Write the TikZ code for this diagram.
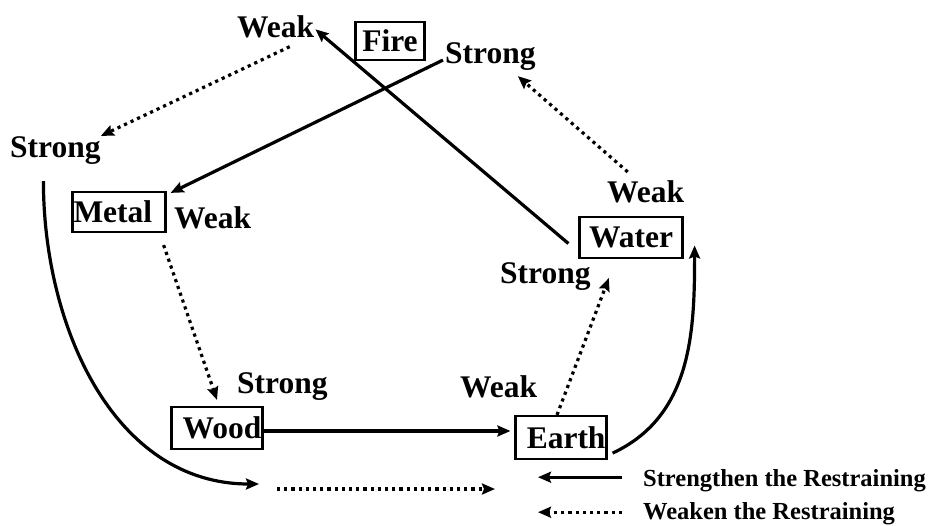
\documentclass[tikz,border=0pt]{standalone}
\usepackage{fontspec}
\setmainfont{Liberation Serif}
\usepackage{tikz}
\usetikzlibrary{arrows.meta, positioning, calc}
\tikzstyle{element}    = [rectangle, draw=black, line width=2.2pt, inner xsep=1pt, inner ysep=0pt,
                          minimum height=41pt, font=\fontsize{31.5}{36}\selectfont\bfseries]
\tikzstyle{tag}        = [inner sep=0pt, anchor=base west, font=\fontsize{31.5}{36}\selectfont\bfseries]
\tikzstyle{legendtext} = [inner sep=0pt, anchor=base west, font=\fontsize{24.5}{28}\selectfont\bfseries]
\tikzstyle{restrain}   = [line width=3.2pt, -{Stealth[length=13pt,width=11pt,inset=2pt]}]
\tikzstyle{weaken}     = [restrain, dash pattern=on 3.2pt off 4pt]

\begin{document}
\begin{tikzpicture}[x=1pt, y=-1pt]
  \useasboundingbox (0,0) rectangle (928,525);

  % Elements
  \node (fire)  [element, text width=67pt, align=center, minimum height=38pt] at (390,41)    {Fire};
  \node (metal) [element, text width=91pt, align=left,   minimum height=40pt] at (119,212)   {Metal};
  \node (water) [element, text width=101pt, align=center]                     at (631,237.5) {Water};
  \node (wood)  [element, text width=89pt, align=right,  minimum height=42pt] at (217,428)   {Wood};
  \node (earth) [element, text width=89pt, align=right,  minimum height=43pt] at (561,437.5) {Earth};

  % Strong / weak tags
  \node (fireweak)    [tag] at (237,37)  {Weak};
  \node (firestrong)  [tag] at (445,63)  {Strong};
  \node (metalstrong) [tag] at (10,157)  {Strong};
  \node (metalweak)   [tag] at (174,228) {Weak};
  \node (waterweak)   [tag] at (607,202) {Weak};
  \node (waterstrong) [tag] at (500,283) {Strong};
  \node (woodstrong)  [tag] at (237,393) {Strong};
  \node (earthweak)   [tag] at (460,397) {Weak};

  % Bottom arrows
  \coordinate (sweepend) at (259,484);
  \coordinate (dotstart) at (277,489);
  \coordinate (dotend)   at (495,489);

  % Strengthened restraining
  \draw[restrain] ([shift={(-2pt,-4pt)}]firestrong.west) -- ([shift={(4pt,-2pt)}]metal.north east);
  \draw[restrain] ([shift={(-10pt,-6pt)}]water.west) -- ([shift={(1pt,-3pt)}]fireweak.east);
  \draw[restrain, shorten >=4pt] ([yshift=-3pt]wood.east) -- ([yshift=-3pt]wood.east -| earth.west);
  \draw[restrain] ([shift={(5pt,7pt)}]earth.south east) to[out=25, in=-90] ([shift={(11pt,-8pt)}]water.east);
  \draw[restrain] ([shift={(-12pt,-17pt)}]metalstrong.south) to[out=-90, in=180] (sweepend);

  % Weakened restraining
  \draw[weaken] ([shift={(14pt,-9pt)}]fireweak.south) -- (metalstrong.north east);
  \draw[weaken] ([shift={(-18pt,8pt)}]waterweak.north) -- ([shift={(-18pt,-6pt)}]firestrong.south east);
  \draw[weaken] ([shift={(-3pt,-12pt)}]metal.south east) -- ([yshift=6pt]wood.north);
  \draw[weaken] ([xshift=-4pt]earth.north) -- ([shift={(18pt,-2pt)}]waterstrong.east);
  \draw[weaken] (dotstart) -- (dotend);

  % Legend
  \node (legstrong) [legendtext] at (643,486) {Strengthen the Restraining};
  \node (legweak)   [legendtext] at (643,519) {Weaken the Restraining};
  \draw[restrain] ([shift={(-21pt,3pt)}]legstrong.west) -- ([shift={(-105pt,3pt)}]legstrong.west);
  \draw[weaken]   ([shift={(-21pt,1pt)}]legweak.west) -- ([shift={(-105pt,1pt)}]legweak.west);

\end{tikzpicture}
\end{document}
